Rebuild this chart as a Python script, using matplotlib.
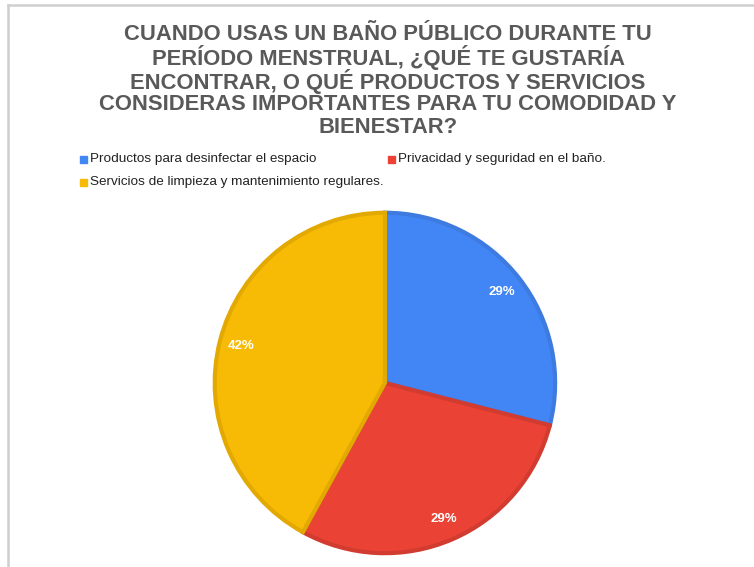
import matplotlib.pyplot as plt
from matplotlib.patches import Rectangle
from matplotlib.lines import Line2D

plt.rcParams['font.family'] = ['Liberation Sans', 'DejaVu Sans']

# Survey answers
categories = ['Productos para desinfectar el espacio',
              'Privacidad y seguridad en el baño.',
              'Servicios de limpieza y mantenimiento regulares.']
shares = [29, 29, 42]
fills = ['#4285F4', '#EA4335', '#F8BB05']
edges = ['#3D7BE0', '#D23B2F', '#E2A903']

title_lines = ['CUANDO USAS UN BAÑO PÚBLICO DURANTE TU',
               'PERÍODO MENSTRUAL, ¿QUÉ TE GUSTARÍA',
               'ENCONTRAR, O QUÉ PRODUCTOS Y SERVICIOS',
               'CONSIDERAS IMPORTANTES PARA TU COMODIDAD Y',
               'BIENESTAR?']

fig = plt.figure(figsize=(7.54, 5.67), dpi=100)

# frame of the embedded chart
fig.add_artist(Line2D([7.5 / 754, 1], [1 - 4.5 / 567, 1 - 4.5 / 567],
                      color='#cfcfcf', lw=1.8, transform=fig.transFigure))
fig.add_artist(Line2D([7.5 / 754, 7.5 / 754], [0, 1 - 4.5 / 567],
                      color='#cfcfcf', lw=1.8, transform=fig.transFigure))

# title, one line at a time for even spacing
for i, line in enumerate(title_lines):
    fig.text(388 / 754, 1 - (32 + 23.3 * i) / 567, line, ha='center',
             va='center_baseline', fontsize=15.8, fontweight='bold',
             color='#595959')

# legend, row by row
legend_pos = [(80, 159), (388, 159), (80, 182)]
for (x, y), label, c in zip(legend_pos, categories, fills):
    fig.add_artist(Rectangle((x / 754, 1 - (y + 4) / 567), 7 / 754, 7 / 567,
                             color=c, transform=fig.transFigure))
    fig.text((x + 10) / 754, 1 - y / 567, label, ha='left', va='center',
             fontsize=9.7, color='#222222')

ax = fig.add_axes([0.2825, 0.0211, 0.456, 0.607])
wedges, _, autotexts = ax.pie(shares, colors=fills, startangle=90,
                              counterclock=False, autopct='%1.0f%%',
                              pctdistance=0.87,
                              wedgeprops=dict(linewidth=3),
                              textprops=dict(color='white', fontsize=9.5,
                                             fontweight='bold'))
for w, e in zip(wedges, edges):
    w.set_edgecolor(e)
ax.set_xlim(-1.01, 1.01)
ax.set_ylim(-1.01, 1.01)
ax.set_aspect('equal')

fig.savefig('out.png', dpi=100)
